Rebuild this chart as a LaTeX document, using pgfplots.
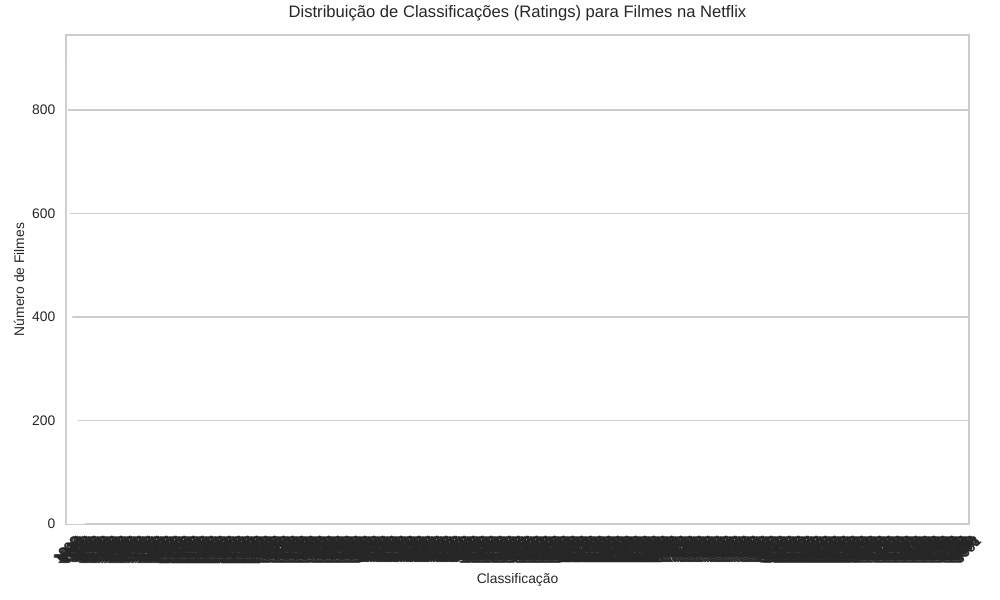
\documentclass[border=0pt]{standalone}
\usepackage{fontspec}
\setmainfont{Liberation Sans}
\usepackage{pgfplots}
\pgfplotsset{compat=1.18}
\definecolor{txt}{HTML}{262626}
\definecolor{gridc}{HTML}{CCCCCC}
\begin{document}
\begin{tikzpicture}
\path[use as bounding box] (0,0) rectangle (722.7pt,433.62pt);
\begin{axis}[
  at={(47.70pt,54.93pt)}, anchor=south west,
  width=652.6pt, height=353.4pt, scale only axis,
  xmin=-0.5, xmax=999.5, ymin=0, ymax=945,
  axis line style={gridc, line width=1.1pt},
  ymajorgrids, grid style={gridc, line width=0.8pt},
  major tick length=0pt,
  ytick={0,200,400,600,800},
  xtick={0,...,999},
  xticklabel={\the\numexpr 1000+\ticknum*9\relax},
  xticklabel style={font=\fontsize{10}{12}\selectfont, text=txt, inner sep=0pt,
    xshift=5pt, yshift=-8pt, rotate=45, anchor=north east},
  yticklabel style={font=\fontsize{10}{12}\selectfont, text=txt, inner sep=0pt, anchor=east, xshift=-7.6pt},
  /pgf/number format/assume math mode=true,
  title={Distribuição de Classificações (Ratings) para Filmes na Netflix},
  title style={font=\fontsize{12}{14}\selectfont, text=txt, at={(axis description cs:0.5,1.0184)}, anchor=base, inner sep=0pt},
  xlabel={Classificação},
  xlabel style={font=\fontsize{10}{12}\selectfont, text=txt, at={(axis description cs:0.5,-0.1207)}, anchor=base, inner sep=0pt},
  ylabel={Número de Filmes},
  ylabel style={font=\fontsize{10}{12}\selectfont, text=txt, at={(axis description cs:-0.0465,0.5)}, anchor=base, inner sep=0pt},
]
\addplot[ybar, bar width=1, fill=white, draw=none] coordinates {
(1,900) (2,760) (3,640) (4,560) (5,490) (6,430) (7,390) (8,350) (9,310) (10,270)
(11,240) (12,215) (13,190) (14,170) (15,150) (16,135) (17,120) (18,110) (19,100) (20,90)
};
\end{axis}
\end{tikzpicture}
\end{document}
